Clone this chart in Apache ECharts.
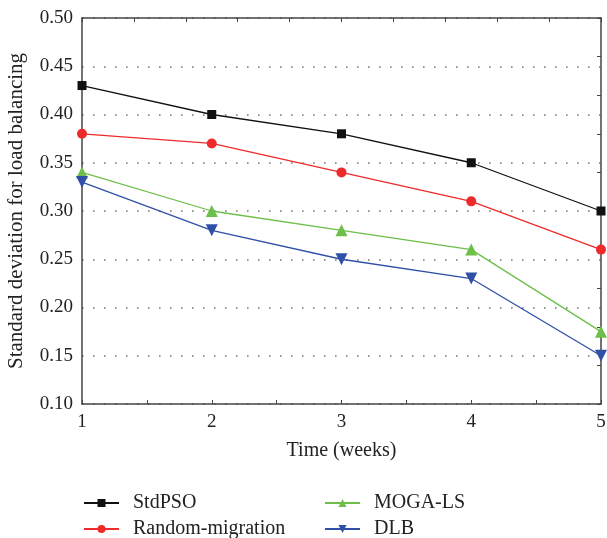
<!DOCTYPE html>
<html>
<head>
<meta charset="utf-8">
<script src="https://cdn.jsdelivr.net/npm/echarts@6/dist/echarts.min.js"></script>
<style>html,body{margin:0;padding:0;background:#fff;}#c{width:607px;height:538px;}</style>
</head>
<body>
<div id="c"></div>
<script>
var weeks = [1, 2, 3, 4, 5];
var stdPSO = [0.43, 0.40, 0.38, 0.35, 0.30];
var randomMigration = [0.38, 0.37, 0.34, 0.31, 0.26];
var mogaLS = [0.34, 0.30, 0.28, 0.26, 0.175];
var dlb = [0.33, 0.28, 0.25, 0.23, 0.15];
var seriesNames = ['StdPSO', 'Random-migration', 'MOGA-LS', 'DLB'];

function pairs(vals) { return weeks.map(function (w, i) { return [w, vals[i]]; }); }

var FONT = 'Liberation Serif';
var axisColor = '#444';
var chart = echarts.init(document.getElementById('c'));
function mk(name, vals, color, symbol, size, rotate) {
  return {
    name: name, type: 'line', data: pairs(vals), symbol: symbol, symbolSize: size,
    symbolRotate: rotate || 0,
    lineStyle: { color: color, width: 1.3 }, itemStyle: { color: color },
    xAxisIndex: 0, yAxisIndex: 0, z: 3, animation: false
  };
}
function leg(name, left, top) {
  return { data: [name], orient: 'horizontal', left: left, top: top, itemWidth: 35, itemHeight: 10, itemGap: 0,
    padding: 0, textStyle: { fontFamily: FONT, fontSize: 20, color: '#222', padding: [0, 0, 0, 9] } };
}
chart.setOption({
  animation: false,
  textStyle: { fontFamily: FONT },
  grid: { left: 82, right: 6, top: 18, bottom: 134, containLabel: false, outerBoundsMode: 'none' },
  legend: [
    leg(seriesNames[0], 83, 493),
    leg(seriesNames[1], 83, 519),
    leg(seriesNames[2], 324, 493),
    leg(seriesNames[3], 324, 519)
  ],
  xAxis: [
    { type: 'value', min: 1, max: 5, interval: 1, position: 'bottom',
      name: 'Time (weeks)', nameLocation: 'middle', nameGap: 37,
      nameTextStyle: { fontFamily: FONT, fontSize: 20, color: '#222' },
      axisLine: { show: true, lineStyle: { color: axisColor, width: 1.5 } },
      axisTick: { show: true, inside: true, length: 4, lineStyle: { color: axisColor } },
      minorTick: { show: true, splitNumber: 2, length: 4, lineStyle: { color: axisColor } },
      axisLabel: { fontFamily: FONT, fontSize: 19, color: '#222', margin: 9 },
      splitLine: { show: false } },
    { type: 'value', min: 1, max: 5, interval: 4, position: 'top',
      axisLine: { show: true, lineStyle: { color: axisColor, width: 1.5 } },
      axisTick: { show: true, inside: true, length: 4, lineStyle: { color: axisColor } },
      minorTick: { show: true, splitNumber: 10, length: 4, lineStyle: { color: axisColor } },
      axisLabel: { show: false }, splitLine: { show: false } }
  ],
  yAxis: [
    { type: 'value', min: 0.1, max: 0.5, interval: 0.05, position: 'left',
      name: 'Standard deviation for load balancing', nameLocation: 'middle', nameGap: 55, nameRotate: 90,
      nameTextStyle: { fontFamily: FONT, fontSize: 21, color: '#222' },
      axisLine: { show: true, lineStyle: { color: axisColor, width: 1.5 } },
      axisTick: { show: false },
      axisLabel: { fontFamily: FONT, fontSize: 19, color: '#222', margin: 9,
        formatter: function (v) { return v.toFixed(2); } },
      splitLine: { show: true, lineStyle: { color: '#777', width: 1.6, type: [1.6, 9.4] } } },
    { type: 'value', min: 0.1, max: 0.5, interval: 0.4, position: 'right',
      axisLine: { show: true, lineStyle: { color: axisColor, width: 1.5 } },
      axisTick: { show: true, inside: true, length: 4, lineStyle: { color: axisColor } },
      minorTick: { show: true, splitNumber: 10, length: 4, lineStyle: { color: axisColor } },
      axisLabel: { show: false }, splitLine: { show: false } }
  ],
  series: [
    mk(seriesNames[0], stdPSO, '#111111', 'rect', 9),
    mk(seriesNames[1], randomMigration, '#ee2a2a', 'circle', 10),
    mk(seriesNames[2], mogaLS, '#6cbf48', 'triangle', 12),
    mk(seriesNames[3], dlb, '#3050a8', 'triangle', 12, 180)
  ]
});
</script>
</body>
</html>
